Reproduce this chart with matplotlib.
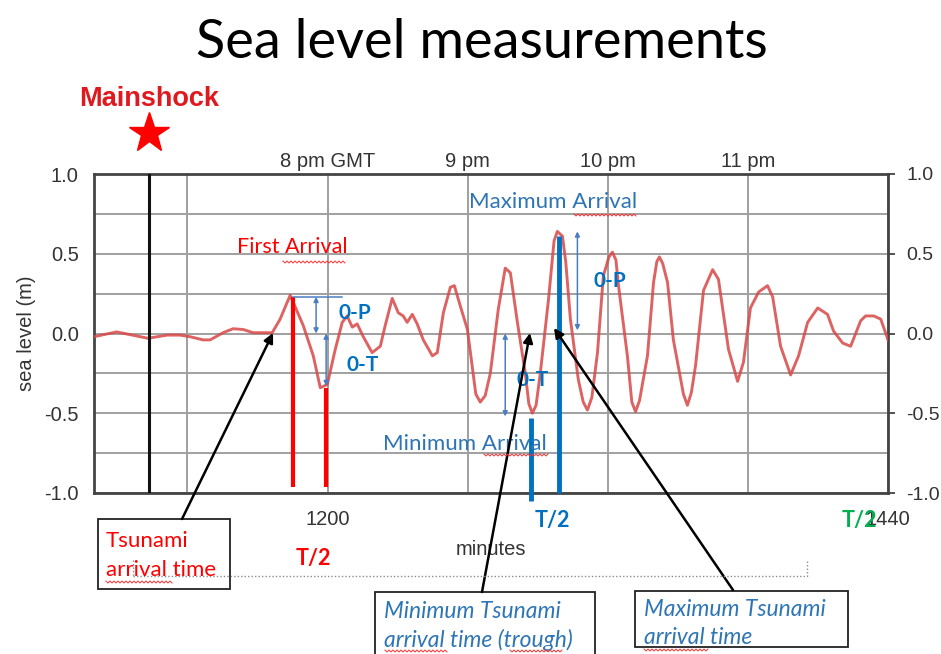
import matplotlib
matplotlib.use('Agg')
import matplotlib.pyplot as plt
import numpy as np
from matplotlib.patches import Rectangle, FancyArrowPatch

# === DATOS ===
minutos = [1100, 1109.7, 1123.1, 1131.3, 1136.9, 1141.1, 1146.7, 1149.7, 1155.3, 1159.6,
           1163.9, 1168.1, 1176.3, 1179.7, 1184.0, 1189.6, 1193.9, 1196.9, 1199.9, 1203.3,
           1206.3, 1208.4, 1210.6, 1212.7, 1215.3, 1219.1, 1222.6, 1224.7, 1227.7, 1230.3,
           1232.4, 1234.1, 1236.3, 1238.4, 1241.0, 1244.9, 1247.0, 1249.6, 1252.6, 1254.3,
           1256.9, 1259.9, 1263.5, 1265.4, 1267.5, 1269.7, 1273.1, 1276.1, 1278.3, 1281.3,
           1284.7, 1286.2, 1287.7, 1289.3, 1291.1, 1294.6, 1297.0, 1298.4, 1300.6, 1302.0,
           1304.0, 1307.4, 1309.5, 1311.3, 1313.2, 1315.6, 1318.1, 1320.5, 1322.0, 1323.5,
           1324.6, 1328.4, 1330.3, 1331.9, 1333.6, 1337.0, 1339.6, 1341.0, 1342.1, 1343.5,
           1345.6, 1348.1, 1352.4, 1354.1, 1355.8, 1357.6, 1361.0, 1364.9, 1367.4, 1371.7,
           1375.6, 1378.1, 1381.1, 1384.6, 1388.4, 1390.6, 1394.0, 1398.3, 1401.7, 1405.6,
           1409.9, 1414.1, 1416.7, 1420.6, 1424.0, 1428.3, 1430.4, 1433.9, 1436.9, 1440]
nivel = [-0.02, 0.01, -0.03, -0.01, -0.01, -0.02, -0.04, -0.04, 0.005, 0.03,
         0.025, 0.005, 0.005, 0.09, 0.24, 0.05, -0.14, -0.34, -0.32, -0.10,
         0.07, 0.11, 0.04, 0.06, -0.02, -0.12, -0.08, 0.05, 0.22, 0.13,
         0.11, 0.07, 0.12, 0.06, -0.04, -0.14, -0.12, 0.13, 0.29, 0.30,
         0.17, 0.025, -0.38, -0.43, -0.39, -0.25, 0.15, 0.41, 0.38, 0.07,
         -0.25, -0.44, -0.50, -0.45, -0.25, 0.21, 0.58, 0.64, 0.61, 0.45,
         0.09, -0.29, -0.43, -0.48, -0.40, -0.12, 0.36, 0.48, 0.51, 0.46,
         0.30, -0.14, -0.43, -0.49, -0.42, -0.14, 0.32, 0.45, 0.48, 0.44,
         0.32, -0.04, -0.38, -0.45, -0.37, -0.20, 0.27, 0.40, 0.34, -0.10,
         -0.30, -0.18, 0.16, 0.26, 0.30, 0.23, -0.08, -0.26, -0.14, 0.07,
         0.16, 0.12, 0.015, -0.06, -0.08, 0.08, 0.11, 0.11, 0.09, -0.04]

mainshock = 1123.6
horas_min = [1200, 1260, 1320, 1380]
horas_txt = ['8 pm GMT', '9 pm', '10 pm', '11 pm']
xticks_min = [1200, 1440]
yticks = [-1.0, -0.5, 0.0, 0.5, 1.0]

# marcas: (minuto, desde, hasta)
rojas = [(1185.3, 0.23, -0.96), (1199.4, -0.34, -0.96)]
azules = [(1287.3, -0.53, -1.05), (1299.3, 0.61, -1.0)]
flechas_dobles = [(1195.1, 0.23, 0.0), (1199.4, 0.0, -0.33), (1276.1, 0.0, -0.52), (1307.0, 0.64, 0.02)]

W, H = 941, 654
def px(x, y):
    return (x / W, 1 - y / H)

AZUL = '#0070C0'
AZUL2 = '#2E75B6'
ROJO = '#FF0000'
GRIS = '#333333'
ARIAL = 'Liberation Sans'
CALIBRI = 'Lato'
FS = 14.5

fig = plt.figure(figsize=(W / 100, H / 100), dpi=100)
x0, y0 = px(94, 493)
x1, y1 = px(888, 174)
ax = fig.add_axes([x0, y0, x1 - x0, y1 - y0])

ax.plot(minutos, nivel, color='#D84848', lw=2.1, alpha=0.85, zorder=3,
        solid_joinstyle='round')
ax.set_xlim(1100, 1440)
ax.set_ylim(-1, 1)

ax.set_yticks(yticks)
ax.set_yticklabels([f'{v:.1f}' for v in yticks], family=ARIAL)
ax.set_yticks([-0.75, -0.25, 0.25, 0.75], minor=True)
ax.set_xticks(xticks_min)
ax.set_xticklabels([str(v) for v in xticks_min], family=ARIAL)
ax.set_xticks([1140, 1260, 1320, 1380], minor=True)
ax.grid(True, which='both', color='#A0A0A0', lw=1.4)
ax.tick_params(which='both', length=0, labelsize=FS, colors=GRIS)
ax.tick_params(axis='x', pad=12)
ax.tick_params(axis='y', pad=11)
for s in ax.spines.values():
    s.set_color('#444444')
    s.set_linewidth(2)
ax.set_ylabel('sea level (m)', fontsize=FS, color=GRIS, family=ARIAL, labelpad=6)
ax.set_xlabel('minutes', fontsize=FS, color=GRIS, family=ARIAL, labelpad=8)

ax_r = ax.twinx()
ax_r.set_ylim(-1, 1)
ax_r.set_yticks(yticks)
ax_r.set_yticklabels([f'{v:.1f}' for v in yticks], family=ARIAL)
ax_r.tick_params(length=5, width=1.3, labelsize=14, colors='#444444', labelcolor=GRIS, pad=8)
for s in ax_r.spines.values():
    s.set_visible(False)

ax_t = ax.twiny()
ax_t.set_xlim(1100, 1440)
ax_t.set_xticks(horas_min)
ax_t.set_xticklabels(horas_txt, family=ARIAL)
ax_t.tick_params(length=0, labelsize=FS, colors=GRIS, pad=2.5)
for s in ax_t.spines.values():
    s.set_visible(False)

# sismo principal
ax.axvline(mainshock, color='#111111', lw=2.2, zorder=4)
ax.plot([mainshock], [1.26], marker='*', color=ROJO, ms=30, clip_on=False, zorder=5)
ax.text(mainshock, 1.47, 'Mainshock', color='#E0191E', fontsize=19.5, weight='bold',
        family=ARIAL, ha='center', va='center', clip_on=False)

# lineas verticales rojas y azules
for m, a, b in rojas:
    ax.plot([m, m], [a, b], color=ROJO, lw=3, zorder=5, solid_capstyle='butt')
for m, a, b in azules:
    ax.plot([m, m], [a, b], color=AZUL, lw=3.5, zorder=5, solid_capstyle='butt', clip_on=False)

# flechas dobles
for m, a, b in flechas_dobles:
    ax.annotate('', xy=(m, b), xytext=(m, a),
                arrowprops=dict(arrowstyle='<|-|>', color='#4A7EC2', lw=1.1,
                                mutation_scale=7, shrinkA=0, shrinkB=0), zorder=6)
ax.plot([1185.3, 1206.3], [0.23, 0.23], color='#4A7EC2', lw=1.1, zorder=6)

# etiquetas 0-P / 0-T
for (x, y, s) in [(1211.5, 0.13, '0-P'), (1215, -0.2, '0-T'), (1288, -0.29, '0-T'), (1321, 0.33, '0-P')]:
    ax.text(x, y, s, color=AZUL, fontsize=15, weight='bold', family=CALIBRI,
            ha='center', va='center', zorder=7)

ax.text(1185, 0.54, 'First Arrival', color=ROJO, fontsize=15.5, family=CALIBRI,
        ha='center', va='center', zorder=7)
ax.text(1296.5, 0.825, 'Maximum Arrival', color=AZUL2, fontsize=16, family=CALIBRI,
        ha='center', va='center', zorder=7)
ax.text(1258.8, -0.69, 'Minimum Arrival', color=AZUL2, fontsize=16, family=CALIBRI,
        ha='center', va='center', zorder=7)

# T/2
fig.text(*px(313, 558), 'T/2', color=ROJO, fontsize=15.5, weight='bold', family=CALIBRI, ha='center', va='center')
fig.text(*px(552, 520), 'T/2', color=AZUL, fontsize=15.5, weight='bold', family=CALIBRI, ha='center', va='center')
fig.text(*px(859, 521), 'T/2', color='#00B050', fontsize=15.5, weight='bold', family=CALIBRI, ha='center', va='center')

# titulo
fig.text(*px(482, 42), 'Sea level measurements', fontsize=39, family=CALIBRI,
         ha='center', va='center', color='black')

# linea punteada
fig.add_artist(plt.Line2D([133 / W, 807 / W, 807 / W], [1 - 576 / H, 1 - 576 / H, 1 - 560 / H],
                          color='#8C8C8C', lw=1, ls=(0, (1, 1.5))))
fig.add_artist(plt.Line2D([133 / W, 133 / W], [1 - 560 / H, 1 - 576 / H],
                          color='#8C8C8C', lw=1, ls=(0, (1, 1.5))))

# cajas de texto
cajas = [((98, 519, 132, 70), ['Tsunami', 'arrival time'], ROJO, 'normal', 16, (106, 541, 29)),
         ((375, 592, 220, 70), ['Minimum Tsunami', 'arrival time (trough)'], AZUL2, 'italic', 16.5, (384, 612, 28)),
         ((635, 591, 213, 56), ['Maximum Tsunami', 'arrival time'], AZUL2, 'italic', 16.5, (644, 610, 27))]
for (bx, by, bw, bh), lineas, col, estilo, tam, (tx, ty, dy) in cajas:
    fig.add_artist(Rectangle(px(bx, by + bh), bw / W, bh / H, fill=True, fc='white',
                             ec='#222222', lw=1.3, transform=fig.transFigure, clip_on=False))
    for i, l in enumerate(lineas):
        fig.text(*px(tx, ty + i * dy), l, color=col, fontsize=tam, style=estilo, family=CALIBRI,
                 ha='left', va='center')

# subrayado ondulado del corrector
def onda(xa, xb, y):
    xs = np.arange(xa, xb + 0.1, 2.0)
    ys = y + np.where(np.arange(len(xs)) % 2 == 0, -1.0, 1.0)
    fig.add_artist(plt.Line2D(xs / W, 1 - ys / H, color='#FF3030', lw=0.7, zorder=8))

for xa, xb, y in [(283, 346, 262), (574, 637, 215), (484, 548, 455),
                  (106, 172, 582), (385, 448, 651), (510, 562, 651), (644, 708, 650)]:
    onda(xa, xb, y)

# flechas negras
for (sx, sy), (ex, ey) in [((182, 519), (273, 333)), ((482, 592), (530, 333)), ((733, 590), (554, 328))]:
    fig.add_artist(FancyArrowPatch(
        px(sx, sy), px(ex, ey), transform=fig.transFigure, arrowstyle='-|>',
        mutation_scale=14, color='black', lw=1.8, shrinkA=0, shrinkB=0))

fig.savefig('out.png', dpi=100)
